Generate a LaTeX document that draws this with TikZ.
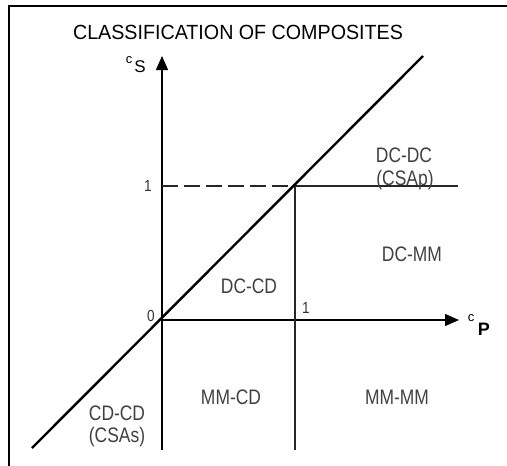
\documentclass[tikz,border=0pt]{standalone}
\usepackage{fontspec}
\setmainfont{Liberation Sans}
\usetikzlibrary{arrows.meta}
\begin{document}
\begin{tikzpicture}[x=1pt,y=-1pt,
  axis/.style={line width=1.3pt,-{Triangle[length=14pt,width=12pt]}},
  thinline/.style={line width=1.2pt, black!85},
  diag/.style={line width=2.4pt},
  region/.style={text=black!75, font=\fontsize{21}{23}\selectfont, xscale=0.83, inner sep=0pt, align=center},
  numlbl/.style={text=black!80, font=\fontsize{16}{18}\selectfont, xscale=0.85, inner sep=0pt}]
\useasboundingbox (0,0) rectangle (507,466);
% frame (top and left visible)
\draw[line width=2pt] (8.5,466) -- (8.5,6) -- (507,6);
% coordinates
\coordinate (O) at (162,320);
\coordinate (Xend) at (459,320);
\coordinate (Yend) at (162,56);
\coordinate (Ybot) at (162,450);
\coordinate (X1) at (295,320);
\coordinate (X1bot) at (295,450);
\coordinate (P11) at (295,186);
\coordinate (Hend) at (458,186);
\coordinate (D0) at (32,448);
\coordinate (D1) at (423,56);
% axes
\draw[axis] (O) -- (Xend);
\draw[axis] (Ybot) -- (Yend);
% grid lines
\draw[thinline] (X1bot) -- (P11);
\draw[thinline] (P11) -- (Hend);
\draw[thinline, dash pattern=on 16pt off 6pt] (162,186) -- (P11);
% diagonal
\draw[diag] (D0) -- (D1);
% title
\node[inner sep=0pt, font=\fontsize{20.5}{22}\selectfont, xscale=0.96] (title) at (238,32) {CLASSIFICATION OF COMPOSITES};
% axis labels
\node[inner sep=0pt, font=\fontsize{13}{14}\selectfont] (cs) at (129,60) {c};
\node[inner sep=0pt, font=\fontsize{17}{18}\selectfont] (S) at (140,67) {S};
\node[inner sep=0pt, font=\fontsize{13}{14}\selectfont] (cp) at (471,318) {c};
\node[inner sep=0pt, font=\bfseries\fontsize{18}{20}\selectfont] (P) at (484,329) {P};
% numbers
\node[numlbl] (zero) at (151,316) {0};
\node[numlbl] (one1) at (306,308) {1};
\node[numlbl] (one2) at (148,186) {1};
% regions
\node[region] (dcdc) at (404,155) {DC-DC};
\node[region] (csap) at (405,180) {(CSAp)};
\node[region] (dcmm) at (412,254) {DC-MM};
\node[region] (dccd) at (249,286) {DC-CD};
\node[region] (mmcd) at (231,397) {MM-CD};
\node[region] (mmmm) at (397,397) {MM-MM};
\node[region] (cdcd) at (117,413) {CD-CD};
\node[region] (csas) at (117,437) {(CSAs)};
\end{tikzpicture}
\end{document}
